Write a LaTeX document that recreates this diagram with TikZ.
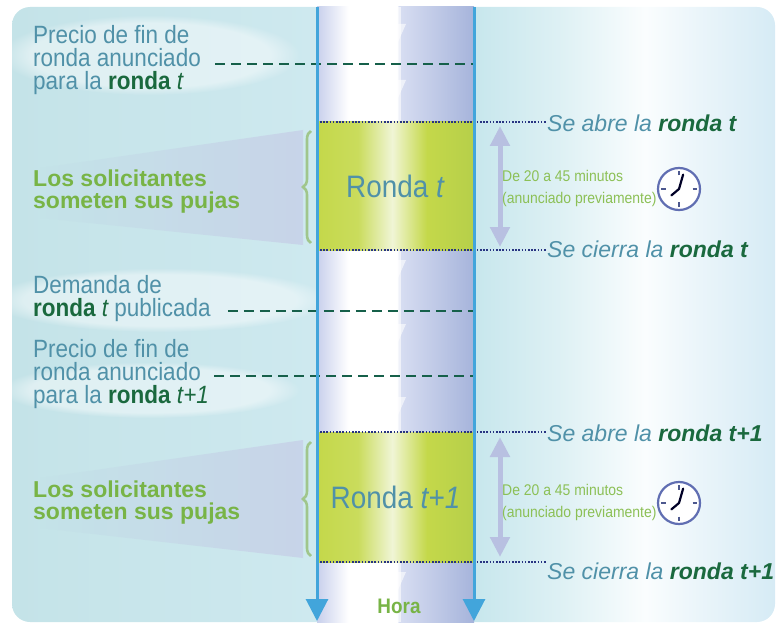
\documentclass[tikz,border=0pt]{standalone}
\usepackage{fontspec}
\setmainfont{Liberation Sans}
\newfontfamily\narrowfont{Liberation Sans}[FakeStretch=0.9]
\usetikzlibrary{arrows.meta, decorations.pathreplacing, fadings}
\definecolor{steelteal}{RGB}{80, 145, 168}
\definecolor{forest}{RGB}{26, 105, 62}
\definecolor{leaf}{RGB}{120, 180, 70}
\definecolor{sprout}{RGB}{140, 192, 86}
\definecolor{skyline}{RGB}{66, 165, 219}
\definecolor{navydot}{RGB}{40, 52, 130}
\definecolor{dashgreen}{RGB}{22, 96, 74}
\definecolor{lilac}{RGB}{184, 192, 225}
\definecolor{clockrim}{RGB}{96, 110, 178}
\definecolor{bracegreen}{RGB}{160, 198, 140}
\definecolor{aqua}{RGB}{196, 227, 232}
\definecolor{aquamid}{RGB}{206, 233, 239}
\definecolor{aquaright}{RGB}{200, 231, 237}
\definecolor{aquafog}{RGB}{250, 253, 254}
\definecolor{aquaedge}{RGB}{214, 235, 245}
\definecolor{lavleft}{RGB}{200, 208, 236}
\definecolor{lavlight}{RGB}{216, 222, 242}
\definecolor{lavdark}{RGB}{166, 180, 219}
\definecolor{lime}{RGB}{196, 216, 74}
\definecolor{limepale}{RGB}{240, 245, 214}
\definecolor{limedeep}{RGB}{182, 207, 74}
\definecolor{wedgegrey}{RGB}{198, 205, 231}
\pgfdeclarehorizontalshading{panelshade}{100bp}{color(0bp)=(aqua); color(25bp)=(aqua); color(45bp)=(aquamid); color(55.5bp)=(aquaright); color(61bp)=(white!40!aquaright); color(66.5bp)=(aquafog); color(70bp)=(white!50!aquaedge); color(75bp)=(aquaedge); color(100bp)=(aquaedge)}
\pgfdeclarehorizontalshading{columnshade}{100bp}{color(0bp)=(lavleft); color(25bp)=(lavleft); color(35bp)=(white); color(50.5bp)=(white); color(51bp)=(lavlight); color(75bp)=(lavdark); color(100bp)=(lavdark)}
\pgfdeclarehorizontalshading{roundshade}{100bp}{color(0bp)=(lime); color(25bp)=(lime); color(38bp)=(lime!90!white); color(49bp)=(limepale); color(52bp)=(lime!45!white); color(60bp)=(lime); color(75bp)=(limedeep); color(100bp)=(limedeep)}
\begin{document}
\begin{tikzpicture}[x=1pt, y=-1pt,
    leftnote/.style={anchor=north west, align=left, inner sep=0pt, text=steelteal, font=\narrowfont\fontsize{25}{23.3}\selectfont},
    bidtext/.style={anchor=north west, align=left, inner sep=0pt, text=leaf, font=\bfseries\fontsize{23}{22}\selectfont},
    eventtext/.style={anchor=base west, inner sep=0pt, text=steelteal, font=\itshape\fontsize{23}{23}\selectfont},
    roundbox/.style={shading=roundshade, minimum width=157pt, inner sep=0pt, text=steelteal, font=\narrowfont\fontsize{31}{31}\selectfont},
    durnote/.style={anchor=west, align=left, inner sep=0pt, text=sprout, font=\narrowfont\fontsize{15.5}{22}\selectfont},
    clockface/.style={circle, draw=clockrim, fill=white, line width=2.2pt, minimum size=42pt, inner sep=0pt},
    clocktick/.style={clockrim!80!black, line width=1.5pt},
    clockhand/.style={black!85!blue, line width=2.2pt, line cap=round},
    cloudband/.style={white, opacity=.45, path fading=circle with fuzzy edge 20 percent},
    dashline/.style={dashgreen, line width=2.3pt, dash pattern=on 10pt off 6pt},
    dotline/.style={navydot, line width=1.6pt, dash pattern=on 1.6pt off 1.6pt},
    colline/.style={skyline, line width=3pt, -{Triangle[width=22pt,length=22pt]}},
    spanarrow/.style={lilac, line width=5pt, {Triangle[width=19pt,length=20pt]}-{Triangle[width=19pt,length=20pt]}},
    bracecurl/.style={bracegreen, line width=2.6pt, decorate, decoration={brace, amplitude=8pt}}]
\useasboundingbox (0,0) rectangle (777,623);
\shade[shading=panelshade, rounded corners=18pt] (12,7) rectangle (775,622);
\fill[cloudband] (150, 55) ellipse (150 and 40);
\fill[cloudband] (160,300) ellipse (170 and 32);
\fill[cloudband] (150,390) ellipse (150 and 28);
\shade[left color=aqua, right color=wedgegrey, opacity=.75] (303,130) -- (40,168) -- (40,218) -- (303,245) -- cycle;
\shade[left color=aqua, right color=wedgegrey, opacity=.75] (303,440) -- (40,478) -- (40,528) -- (303,558) -- cycle;
\shade[shading=columnshade] (317,7) rectangle (474,622);
\draw[white, opacity=.6, line width=5pt] (398,7) -- (398,122) (398,250) -- (398,432) (398,562) -- (398,622);
\foreach \tip in {42,98,278,342,415,590}
    \fill[white, opacity=.6] (390,\tip-18) -- (406,\tip-18) -- (398,\tip) -- cycle;

\node[roundbox, minimum height=128pt] (roundA) at (395.5,186) {Ronda \textit{t}};
\node[roundbox, minimum height=130pt] (roundB) at (395.5,497) {Ronda \textit{t+1}};

\node[leftnote] (priceA) at (33, 25) {Precio de fin de\\ronda anunciado\\para la \textbf{\color{forest}ronda} {\color{forest}\itshape t}};
\node[leftnote] (demand) at (33,275) {Demanda de\\\textbf{\color{forest}ronda} {\color{forest}\itshape t} publicada};
\node[leftnote] (priceB) at (33,339) {Precio de fin de\\ronda anunciado\\para la \textbf{\color{forest}ronda} {\color{forest}\itshape t+1}};
\node[bidtext]  (bidsA)  at (33,170) {Los solicitantes\\someten sus pujas};
\node[bidtext]  (bidsB)  at (33,481) {Los solicitantes\\someten sus pujas};
\draw[bracecurl] (311,243) -- (311,131);
\draw[bracecurl] (311,556) -- (311,442);

\coordinate (dashA) at (474, 64);
\coordinate (dashB) at (474,311);
\coordinate (dashC) at (474,376);
\draw[dashline] ([xshift=14pt]priceA.east |- dashA) -- (dashA);
\draw[dashline] ([xshift=17pt]demand.east |- dashB) -- (dashB);
\draw[dashline] ([xshift=5pt]priceB.east |- dashC) -- (dashC);

\node[eventtext] (openA)  at (547,132) {Se abre la \textbf{\color{forest}ronda t}};
\node[eventtext] (closeA) at (547,257) {Se cierra la \textbf{\color{forest}ronda t}};
\node[eventtext] (openB)  at (547,441) {Se abre la \textbf{\color{forest}ronda t+1}};
\node[eventtext] (closeB) at (547,579) {Se cierra la \textbf{\color{forest}ronda t+1}};
\draw[dotline] (roundA.north west) -- (openA.west  |- roundA.north);
\draw[dotline] (roundA.south west) -- (closeA.west |- roundA.south);
\draw[dotline] (roundB.north west) -- (openB.west  |- roundB.north);
\draw[dotline] (roundB.south west) -- (closeB.west |- roundB.south);

\coordinate (colTopL) at (317,7);
\coordinate (colTopR) at (474,7);
\coordinate (colEndL) at (317,621);
\coordinate (colEndR) at (474,621);
\draw[colline] (colTopL) -- (colEndL);
\draw[colline] (colTopR) -- (colEndR);
\node[font=\narrowfont\bfseries\fontsize{21}{21}\selectfont, text=leaf, inner sep=0pt] (hourLbl) at (399,606) {Hora};

\coordinate (spanA1) at (500,126);
\coordinate (spanA2) at (500,247);
\coordinate (spanB1) at (500,437);
\coordinate (spanB2) at (500,557);
\draw[spanarrow] (spanA1) -- (spanA2);
\draw[spanarrow] (spanB1) -- (spanB2);
\node[durnote] (durA) at (502,188) {De 20 a 45 minutos\\(anunciado previamente)};
\node[durnote] (durB) at (502,502) {De 20 a 45 minutos\\(anunciado previamente)};

\node[clockface] (clockA) at (679,189) {};
\node[clockface] (clockB) at (679,503) {};
\foreach \clk in {clockA,clockB} {
    \foreach \ang in {0,90,180,270}
        \draw[clocktick] (\clk.center) ++(\ang:13.5) -- ++(\ang:4.5);
    \draw[clockhand] (\clk.center) -- ++(-74:15);
    \draw[clockhand] (\clk.center) -- ++(140:10);
}
\end{tikzpicture}
\end{document}
